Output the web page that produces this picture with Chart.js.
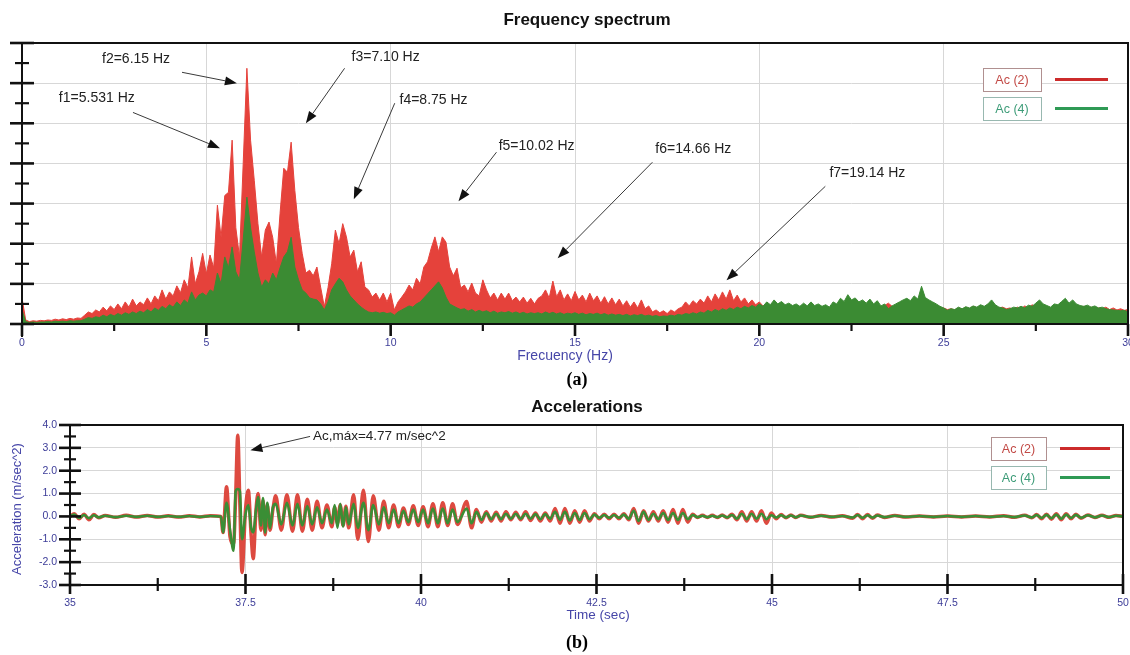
<!DOCTYPE html>
<html>
<head>
<meta charset="utf-8">
<script src="https://cdn.jsdelivr.net/npm/chart.js@4.4.0/dist/chart.umd.min.js"></script>
<style>
  html, body { margin: 0; padding: 0; background: #fff; }
  #page { position: relative; width: 1130px; height: 655px; overflow: hidden; background: #fff; }
  #specCanvas { position: absolute; left: 0; top: 0; }
  #accCanvas { position: absolute; left: 0; top: 390px; }
</style>
</head>
<body>
<div id="page">
  <canvas id="specCanvas" width="1130" height="390"></canvas>
  <canvas id="accCanvas" width="1130" height="265"></canvas>
</div>
<script>
// ---- (a) frequency spectrum, one value every 0.1 Hz from 0 to 30 Hz ----
const ac2Spectrum = [
  0.65, 0.10, 0.06, 0.08, 0.07, 0.09, 0.08, 0.10, 0.09, 0.12, 0.10, 0.13, 0.11, 0.14, 0.12, 0.15, 0.14, 0.22, 0.30, 0.26,
  0.35, 0.30, 0.42, 0.33, 0.45, 0.36, 0.50, 0.38, 0.55, 0.42, 0.62, 0.45, 0.55, 0.48, 0.65, 0.50, 0.70, 0.58, 0.85, 0.62,
  0.80, 0.70, 0.95, 0.78, 1.10, 0.90, 1.67, 1.00, 1.30, 1.76, 1.25, 1.72, 1.40, 2.96, 2.16, 3.20, 3.28, 4.58, 2.40, 1.67,
  4.00, 6.37, 4.58, 3.58, 2.50, 1.67, 2.34, 2.54, 2.16, 1.50, 2.76, 3.88, 3.78, 4.53, 3.33, 2.40, 1.76, 1.27, 1.34, 1.20,
  1.42, 0.92, 0.43, 0.90, 1.50, 2.34, 2.00, 2.50, 2.17, 1.67, 1.84, 1.30, 1.55, 0.92, 0.85, 0.67, 0.77, 0.60, 0.77, 0.55,
  0.77, 0.35, 0.55, 0.67, 0.80, 0.97, 0.85, 1.14, 1.00, 1.42, 1.55, 1.89, 2.17, 1.80, 2.17, 2.04, 1.42, 1.20, 1.39, 0.90,
  0.97, 0.80, 1.02, 0.77, 0.70, 1.10, 0.85, 0.65, 0.77, 0.60, 0.77, 0.62, 0.77, 0.58, 0.67, 0.55, 0.67, 0.52, 0.64, 0.50,
  0.64, 0.70, 0.85, 0.65, 1.07, 0.68, 0.85, 0.60, 0.75, 0.58, 0.81, 0.60, 0.72, 0.55, 0.77, 0.58, 0.70, 0.52, 0.68, 0.50,
  0.65, 0.48, 0.62, 0.45, 0.58, 0.42, 0.55, 0.40, 0.60, 0.38, 0.45, 0.30, 0.35, 0.28, 0.33, 0.26, 0.35, 0.30, 0.38, 0.42,
  0.55, 0.45, 0.58, 0.50, 0.62, 0.52, 0.70, 0.55, 0.75, 0.60, 0.80, 0.62, 0.85, 0.58, 0.72, 0.55, 0.65, 0.50, 0.60, 0.48,
  0.55, 0.45, 0.50, 0.42, 0.48, 0.40, 0.45, 0.38, 0.42, 0.40, 0.45, 0.38, 0.42, 0.36, 0.40, 0.38, 0.44, 0.36, 0.42, 0.40,
  0.48, 0.40, 0.52, 0.42, 0.55, 0.45, 0.50, 0.44, 0.48, 0.42, 0.45, 0.40, 0.50, 0.42, 0.46, 0.52, 0.44, 0.40, 0.45, 0.42,
  0.50, 0.45, 0.55, 0.48, 0.52, 0.45, 0.48, 0.40, 0.42, 0.38, 0.40, 0.36, 0.38, 0.35, 0.40, 0.36, 0.42, 0.38, 0.44, 0.40,
  0.45, 0.40, 0.48, 0.42, 0.46, 0.40, 0.42, 0.38, 0.40, 0.36, 0.42, 0.38, 0.45, 0.40, 0.48, 0.42, 0.46, 0.40, 0.44, 0.38,
  0.46, 0.40, 0.50, 0.42, 0.48, 0.44, 0.46, 0.40, 0.44, 0.38, 0.42, 0.36, 0.40, 0.38, 0.42, 0.36, 0.40, 0.35, 0.38, 0.34,
  0.36
];
const ac4Spectrum = [
  0.35, 0.06, 0.04, 0.05, 0.04, 0.05, 0.05, 0.06, 0.05, 0.07, 0.06, 0.07, 0.06, 0.08, 0.07, 0.08, 0.08, 0.12, 0.16, 0.14,
  0.18, 0.16, 0.22, 0.18, 0.24, 0.20, 0.26, 0.22, 0.28, 0.24, 0.30, 0.26, 0.32, 0.28, 0.36, 0.30, 0.40, 0.34, 0.44, 0.38,
  0.48, 0.42, 0.55, 0.46, 0.60, 0.52, 0.80, 0.60, 0.72, 0.77, 0.70, 0.85, 0.80, 1.27, 1.00, 1.67, 1.40, 1.92, 1.30, 1.10,
  2.10, 3.16, 2.40, 1.80, 1.27, 0.92, 1.10, 1.00, 1.27, 1.10, 1.40, 1.67, 1.80, 2.16, 1.42, 1.10, 0.85, 0.77, 0.65, 0.62,
  0.60, 0.50, 0.35, 0.55, 0.85, 1.00, 1.14, 1.05, 0.85, 0.70, 0.60, 0.50, 0.42, 0.35, 0.30, 0.28, 0.30, 0.27, 0.29, 0.26,
  0.28, 0.22, 0.30, 0.35, 0.40, 0.45, 0.42, 0.50, 0.55, 0.65, 0.75, 0.85, 0.95, 1.05, 0.90, 0.67, 0.50, 0.45, 0.40, 0.36,
  0.38, 0.32, 0.36, 0.30, 0.34, 0.30, 0.33, 0.28, 0.32, 0.27, 0.30, 0.28, 0.31, 0.27, 0.30, 0.26, 0.29, 0.25, 0.28, 0.26,
  0.28, 0.25, 0.30, 0.26, 0.29, 0.25, 0.28, 0.24, 0.27, 0.25, 0.28, 0.24, 0.27, 0.23, 0.26, 0.24, 0.27, 0.23, 0.26, 0.22,
  0.25, 0.22, 0.24, 0.21, 0.24, 0.20, 0.23, 0.21, 0.24, 0.20, 0.22, 0.19, 0.21, 0.18, 0.20, 0.19, 0.22, 0.20, 0.24, 0.22,
  0.26, 0.24, 0.28, 0.25, 0.30, 0.27, 0.34, 0.30, 0.36, 0.32, 0.38, 0.34, 0.40, 0.36, 0.42, 0.38, 0.44, 0.40, 0.46, 0.42,
  0.50, 0.44, 0.55, 0.48, 0.60, 0.50, 0.56, 0.48, 0.52, 0.46, 0.50, 0.44, 0.52, 0.45, 0.55, 0.46, 0.50, 0.44, 0.48, 0.42,
  0.55, 0.50, 0.64, 0.56, 0.73, 0.60, 0.65, 0.55, 0.60, 0.52, 0.62, 0.50, 0.58, 0.45, 0.50, 0.38, 0.45, 0.50, 0.55, 0.60,
  0.64, 0.58, 0.70, 0.62, 0.94, 0.66, 0.60, 0.55, 0.50, 0.44, 0.40, 0.34, 0.38, 0.36, 0.42, 0.38, 0.43, 0.40, 0.45, 0.42,
  0.48, 0.44, 0.50, 0.60, 0.48, 0.42, 0.40, 0.36, 0.38, 0.42, 0.40, 0.44, 0.40, 0.47, 0.44, 0.52, 0.60, 0.50, 0.46, 0.42,
  0.50, 0.48, 0.56, 0.64, 0.52, 0.60, 0.50, 0.46, 0.44, 0.47, 0.42, 0.45, 0.40, 0.42, 0.38, 0.36, 0.35, 0.34, 0.33, 0.34,
  0.30
];

// ---- (b) accelerations, m/sec^2, turning points of the two records ----
const accTime = [
  35.00, 35.06, 35.13, 35.20, 35.27, 35.34, 35.41, 35.50, 35.65, 35.80, 35.95, 36.10, 36.25, 36.40, 36.55, 36.70, 36.85, 37.00, 37.15,
  37.18, 37.23, 37.28, 37.33, 37.36, 37.39, 37.42, 37.45, 37.50, 37.54, 37.58, 37.61, 37.65, 37.68, 37.72, 37.75, 37.78, 37.81, 37.85, 37.89,
  37.93, 38.01, 38.09, 38.17, 38.24, 38.31, 38.38, 38.45, 38.52, 38.59, 38.66, 38.73, 38.77, 38.81, 38.85, 38.89, 38.93, 38.97,
  39.04, 39.10, 39.18, 39.25, 39.32, 39.40, 39.47, 39.54, 39.61, 39.68, 39.75, 39.82, 39.89, 39.96,
  40.03, 40.10, 40.17, 40.24, 40.31, 40.38, 40.45, 40.52, 40.65, 40.72, 40.79, 40.86, 40.93,
  41.00, 41.07, 41.14, 41.21, 41.28, 41.35, 41.42, 41.49, 41.56, 41.63, 41.70, 41.77, 41.84, 41.91, 41.98,
  42.05, 42.12, 42.19, 42.26, 42.33, 42.40, 42.47, 42.54, 42.61, 42.68, 42.75, 42.82, 42.89, 42.96,
  43.03, 43.10, 43.17, 43.24, 43.31, 43.38, 43.45, 43.52, 43.59, 43.66, 43.73, 43.80, 43.87, 43.94,
  44.01, 44.08, 44.15, 44.22, 44.29, 44.36, 44.43, 44.50, 44.57, 44.64, 44.71, 44.78, 44.85, 44.92, 44.99,
  45.06, 45.13, 45.20, 45.27, 45.34, 45.41, 45.55, 45.70, 45.85, 46.00, 46.15, 46.22, 46.29, 46.36, 46.43, 46.50, 46.60, 46.75, 46.90,
  47.10, 47.30, 47.50, 47.70, 47.90, 48.10, 48.30, 48.45, 48.60, 48.70, 48.77, 48.84, 48.91, 48.98, 49.05, 49.12, 49.19, 49.26, 49.33, 49.40, 49.50, 49.60, 49.70, 49.80, 49.90, 50.00
];
const ac2Accel = [
  0.00, 0.12, -0.10, 0.10, -0.15, 0.08, -0.06, 0.04, -0.04, 0.05, -0.03, 0.04, -0.03, 0.03, -0.03, 0.03, -0.02, 0.03, 0.00,
  -0.70, 1.30, -0.90, -1.20, 0.90, 3.55, 0.50, -2.45, 0.30, 1.15, -0.80, -1.85, 0.30, 1.00, -0.60, 0.70, -0.80, 0.50, -0.60, 0.30,
  0.90, -0.60, 0.95, -0.65, 0.95, -0.65, 0.75, -0.60, 0.66, -0.50, 0.50, -0.45, 0.40, -0.30, 0.50, -0.40, 0.45, -0.50,
  0.95, -1.00, 1.15, -1.10, 0.90, -0.60, 0.66, -0.50, 0.50, -0.45, 0.37, -0.35, 0.47, -0.40,
  0.42, -0.45, 0.55, -0.45, 0.60, -0.40, 0.55, -0.35, 0.65, -0.50, 0.30, -0.25, 0.20,
  -0.20, 0.18, -0.20, 0.20, -0.15, 0.18, -0.15, 0.20, -0.18, 0.15, -0.20, 0.15, -0.20, 0.35, -0.30,
  0.35, -0.30, 0.25, -0.25, 0.25, -0.20, 0.12, -0.10, 0.10, -0.10, 0.10, -0.10, 0.12, -0.15,
  0.35, -0.30, 0.25, -0.20, 0.20, -0.20, 0.25, -0.25, 0.30, -0.30, 0.30, -0.25, 0.10, -0.05,
  0.05, -0.05, 0.05, -0.05, 0.06, -0.06, 0.10, -0.15, 0.20, -0.20, 0.20, -0.20, 0.25, -0.30, 0.15,
  -0.10, 0.08, -0.06, 0.06, -0.05, 0.05, -0.04, 0.04, -0.03, 0.03, -0.08, 0.08, -0.10, 0.08, -0.08, 0.06, -0.05, 0.04, -0.03,
  0.02, -0.02, 0.02, -0.02, 0.02, -0.02, 0.03, -0.04, 0.05, -0.06, 0.08, -0.10, 0.10, -0.12, 0.12, -0.15, 0.12, -0.10, 0.10, -0.08, 0.06, -0.05, 0.05, -0.04, 0.04, 0.00
];
const ac4Accel = [
  0.00, 0.08, -0.07, 0.06, -0.08, 0.05, -0.04, 0.03, -0.03, 0.03, -0.02, 0.03, -0.02, 0.02, -0.02, 0.02, -0.02, 0.02, 0.00,
  -0.70, 0.60, -0.60, -1.50, 1.10, 1.20, 1.10, -1.00, 0.10, 0.50, -0.50, -0.70, 0.30, 0.85, -0.40, 0.80, -0.70, 0.60, -0.50, 0.40,
  0.55, -0.35, 0.60, -0.40, 0.55, -0.40, 0.45, -0.35, 0.40, -0.30, 0.30, -0.30, 0.50, -0.50, 0.55, -0.45, 0.40, -0.35,
  0.55, -0.50, 0.60, -0.60, 0.50, -0.35, 0.40, -0.30, 0.30, -0.30, 0.25, -0.25, 0.30, -0.25,
  0.30, -0.30, 0.35, -0.30, 0.35, -0.30, 0.30, -0.25, 0.35, -0.30, 0.20, -0.15, 0.15,
  -0.12, 0.12, -0.12, 0.12, -0.10, 0.12, -0.10, 0.12, -0.10, 0.10, -0.12, 0.10, -0.10, 0.20, -0.15,
  0.20, -0.18, 0.15, -0.15, 0.15, -0.12, 0.08, -0.06, 0.06, -0.06, 0.06, -0.06, 0.08, -0.10,
  0.25, -0.20, 0.20, -0.15, 0.12, -0.12, 0.15, -0.15, 0.15, -0.15, 0.15, -0.12, 0.06, -0.03,
  0.03, -0.03, 0.03, -0.03, 0.04, -0.04, 0.06, -0.10, 0.12, -0.12, 0.12, -0.10, 0.12, -0.12, 0.05,
  -0.05, 0.05, -0.04, 0.04, -0.04, 0.04, -0.03, 0.03, -0.02, 0.02, -0.05, 0.06, -0.06, 0.05, -0.05, 0.04, -0.03, 0.03, -0.02,
  0.02, -0.02, 0.02, -0.02, 0.02, -0.02, 0.02, -0.03, 0.04, -0.04, 0.06, -0.07, 0.07, -0.08, 0.08, -0.10, 0.08, -0.07, 0.07, -0.06, 0.05, -0.04, 0.04, -0.03, 0.03, 0.00
];

// annotation labels, placed in data units
const specNotes = [
  { text: 'f2=6.15 Hz',  tx: 2.17,  ty: 6.59, from: [4.34, 6.27],  to: [5.83, 6.00] },
  { text: 'f1=5.531 Hz', tx: 1.00,  ty: 5.62, from: [3.01, 5.27],  to: [5.37, 4.38] },
  { text: 'f3=7.10 Hz',  tx: 8.94,  ty: 6.64, from: [8.75, 6.37],  to: [7.70, 5.00] },
  { text: 'f4=8.75 Hz',  tx: 10.24, ty: 5.57, from: [10.11, 5.50], to: [9.00, 3.11] },
  { text: 'f5=10.02 Hz', tx: 12.93, ty: 4.43, from: [12.87, 4.28], to: [11.84, 3.06] },
  { text: 'f6=14.66 Hz', tx: 17.18, ty: 4.35, from: [17.10, 4.03], to: [14.53, 1.64] },
  { text: 'f7=19.14 Hz', tx: 21.90, ty: 3.76, from: [21.79, 3.43], to: [19.11, 1.09] }
];
const accNotes = [
  { text: 'Ac,máx=4.77 m/sec^2', tx: 38.46, ty: 3.50, from: [38.42, 3.50], to: [37.57, 2.89] }
];

const specRed = '#e5423b';
const specGreen = '#3b8b33';
const accRed = '#dd4a40';
const accGreen = '#3a8e35';
const tickBlue = '#3c3c98';
const titleBlue = '#4646a8';
const gridGray = '#d7d7d7';
const sans = '"Liberation Sans", Arial, sans-serif';

Chart.defaults.font.family = sans;

const toPoints = (xs, ys) => xs.map((x, i) => ({ x: x, y: ys[i] }));
const specFreq = ac2Spectrum.map((_, i) => i / 10);

// draws the black frame, crossing tick marks, arrows, legend boxes and captions
function makeDeco(cfg) {
  return {
    id: 'deco',
    afterDatasetsDraw(chart) {
      const ctx = chart.ctx, a = chart.chartArea;
      const xs = chart.scales.x, ys = chart.scales.y;
      const seg = (x1, y1, x2, y2, w, c) => {
        ctx.strokeStyle = c || '#111';
        ctx.lineWidth = w;
        ctx.beginPath();
        ctx.moveTo(x1, y1);
        ctx.lineTo(x2, y2);
        ctx.stroke();
      };
      ctx.save();
      ctx.lineCap = 'butt';

      // frame
      seg(a.left - cfg.frameExt, a.top, a.right + 1, a.top, 2);
      seg(a.left - cfg.frameExt, a.bottom, a.right + 1, a.bottom, 2);
      seg(a.left, a.top - 1, a.left, a.bottom + cfg.axisExt, 2);
      seg(a.right, a.top - 1, a.right, a.bottom + 1, 2);

      // y ticks crossing the left axis
      const yt = cfg.yTicks;
      for (let k = 0; yt.min + k * yt.minor <= yt.max + 1e-9; k++) {
        const py = ys.getPixelForValue(yt.min + k * yt.minor);
        const major = k % 2 === 0;
        const sp = major ? yt.majorSpan : yt.minorSpan;
        seg(a.left - sp[0], py, a.left + sp[1], py, major ? 2.6 : 2.2);
      }
      // x ticks on the bottom axis
      const xt = cfg.xTicks;
      for (let k = 0; xt.min + k * xt.minor <= xt.max + 1e-9; k++) {
        const px = xs.getPixelForValue(xt.min + k * xt.minor);
        const major = k % 2 === 0;
        const sp = major ? xt.majorSpan : xt.minorSpan;
        seg(px, a.bottom - sp[0], px, a.bottom + sp[1], major ? 2.6 : 2.2);
      }

      // annotation arrows and labels
      cfg.notes.forEach(n => {
        const x1 = xs.getPixelForValue(n.from[0]), y1 = ys.getPixelForValue(n.from[1]);
        const x2 = xs.getPixelForValue(n.to[0]), y2 = ys.getPixelForValue(n.to[1]);
        const ang = Math.atan2(y2 - y1, x2 - x1), L = 12, W = 4.5;
        const bx = x2 - L * Math.cos(ang), by = y2 - L * Math.sin(ang);
        seg(x1, y1, bx, by, 1, '#3a3a3a');
        ctx.fillStyle = '#111';
        ctx.beginPath();
        ctx.moveTo(x2, y2);
        ctx.lineTo(bx + W * Math.sin(ang), by - W * Math.cos(ang));
        ctx.lineTo(bx - W * Math.sin(ang), by + W * Math.cos(ang));
        ctx.closePath();
        ctx.fill();
        ctx.font = cfg.noteFont;
        ctx.fillStyle = '#222';
        ctx.textAlign = 'left';
        ctx.textBaseline = 'middle';
        ctx.fillText(n.text, xs.getPixelForValue(n.tx), ys.getPixelForValue(n.ty));
      });

      // legend: boxed label with a line sample to its right
      const lg = cfg.legend;
      chart.data.datasets.forEach((ds, i) => {
        const top = lg.top + i * lg.gap;
        ctx.fillStyle = '#fff';
        ctx.fillRect(lg.boxX, top, lg.boxW, lg.boxH);
        ctx.strokeStyle = lg.boxColors[i];
        ctx.lineWidth = 1;
        ctx.strokeRect(lg.boxX + 0.5, top + 0.5, lg.boxW, lg.boxH);
        ctx.font = '12.5px ' + sans;
        ctx.fillStyle = lg.textColors[i];
        ctx.textAlign = 'center';
        ctx.textBaseline = 'middle';
        ctx.fillText(ds.label, lg.boxX + lg.boxW / 2, top + lg.boxH / 2 + 1);
        seg(lg.lineX1, top + lg.boxH / 2, lg.lineX2, top + lg.boxH / 2, 3, lg.lineColors[i]);
      });

      // captions
      cfg.texts.forEach(t => {
        ctx.save();
        ctx.translate(t.x, t.y);
        if (t.rot) ctx.rotate(t.rot);
        ctx.font = t.font;
        ctx.fillStyle = t.color;
        ctx.textAlign = 'center';
        ctx.textBaseline = 'middle';
        ctx.fillText(t.text, 0, 0);
        ctx.restore();
      });
      ctx.restore();
    }
  };
}

// ---- chart (a) ----
new Chart(document.getElementById('specCanvas'), {
  type: 'line',
  data: {
    datasets: [
      { label: 'Ac (2)', data: toPoints(specFreq, ac2Spectrum), borderColor: specRed, backgroundColor: specRed,
        fill: 'origin', borderWidth: 1, pointRadius: 0, tension: 0, order: 2 },
      { label: 'Ac (4)', data: toPoints(specFreq, ac4Spectrum), borderColor: specGreen, backgroundColor: specGreen,
        fill: 'origin', borderWidth: 1, pointRadius: 0, tension: 0, order: 1 }
    ]
  },
  options: {
    responsive: false,
    animation: false,
    events: [],
    layout: { padding: { top: 43, right: 2, left: 0, bottom: 0 } },
    plugins: { legend: { display: false }, tooltip: { enabled: false } },
    scales: {
      x: {
        type: 'linear', min: 0, max: 30,
        afterFit(s) { s.height = 66; s.paddingLeft = 0; s.paddingRight = 0; },
        ticks: { stepSize: 5, padding: 13, color: tickBlue, font: { size: 10.5 }, maxRotation: 0, autoSkip: false,
                 callback: v => String(v) },
        grid: { color: gridGray, drawTicks: false },
        border: { display: false }
      },
      y: {
        min: 0, max: 7,
        afterFit(s) { s.width = 22; },
        ticks: { stepSize: 1, display: false },
        grid: { color: gridGray, drawTicks: false },
        border: { display: false }
      }
    }
  },
  plugins: [makeDeco({
    frameExt: 12, axisExt: 13,
    yTicks: { min: 0, max: 7, minor: 0.5, majorSpan: [12, 12], minorSpan: [7, 7] },
    xTicks: { min: 0, max: 30, minor: 2.5, majorSpan: [0, 12], minorSpan: [0, 7] },
    notes: specNotes,
    noteFont: '14px ' + sans,
    legend: { boxX: 983, boxW: 58, boxH: 23, top: 68, gap: 29, lineX1: 1055, lineX2: 1108,
              boxColors: ['#b09090', '#98b8b0'], textColors: ['#c24a46', '#3d9c78'], lineColors: ['#cc2b2b', '#2f9a55'] },
    texts: [
      { text: 'Frequency spectrum', x: 587, y: 20, font: 'bold 17px ' + sans, color: '#111' },
      { text: 'Frecuency (Hz)', x: 565, y: 356, font: '14px ' + sans, color: titleBlue },
      { text: '(a)', x: 577, y: 380, font: 'bold 18px "Liberation Serif", "Times New Roman", serif', color: '#000' }
    ]
  })]
});

// ---- chart (b) ----
new Chart(document.getElementById('accCanvas'), {
  type: 'line',
  data: {
    datasets: [
      { label: 'Ac (2)', data: toPoints(accTime, ac2Accel), borderColor: accRed, borderWidth: 3.5,
        pointRadius: 0, cubicInterpolationMode: 'monotone', fill: false, order: 2 },
      { label: 'Ac (4)', data: toPoints(accTime, ac4Accel), borderColor: accGreen, borderWidth: 2.6,
        pointRadius: 0, cubicInterpolationMode: 'monotone', fill: false, order: 1 }
    ]
  },
  options: {
    responsive: false,
    animation: false,
    events: [],
    layout: { padding: { top: 35, right: 7, left: 0, bottom: 0 } },
    plugins: { legend: { display: false }, tooltip: { enabled: false } },
    scales: {
      x: {
        type: 'linear', min: 35, max: 50,
        afterFit(s) { s.height = 70; s.paddingLeft = 0; s.paddingRight = 0; },
        ticks: { stepSize: 2.5, padding: 12, color: tickBlue, font: { size: 10.5 }, maxRotation: 0, autoSkip: false,
                 callback: v => String(v) },
        grid: { color: gridGray, drawTicks: false },
        border: { display: false }
      },
      y: {
        min: -3, max: 4,
        afterFit(s) { s.width = 70; },
        ticks: { stepSize: 1, padding: 13, color: tickBlue, font: { size: 10.5 }, callback: v => v.toFixed(1) },
        grid: { color: gridGray, drawTicks: false },
        border: { display: false }
      }
    }
  },
  plugins: [makeDeco({
    frameExt: 10, axisExt: 0,
    yTicks: { min: -3, max: 4, minor: 0.5, majorSpan: [11, 11], minorSpan: [6, 6] },
    xTicks: { min: 35, max: 50, minor: 1.25, majorSpan: [11, 9], minorSpan: [7, 6] },
    notes: accNotes,
    noteFont: '13.5px ' + sans,
    legend: { boxX: 991, boxW: 55, boxH: 23, top: 47, gap: 29, lineX1: 1060, lineX2: 1110,
              boxColors: ['#b09090', '#98b8b0'], textColors: ['#c24a46', '#3d9c78'], lineColors: ['#cc2b2b', '#2f9a55'] },
    texts: [
      { text: 'Accelerations', x: 587, y: 17, font: 'bold 17px ' + sans, color: '#111' },
      { text: 'Time (sec)', x: 598, y: 225, font: '13.5px ' + sans, color: titleBlue },
      { text: 'Acceleration (m/sec^2)', x: 17, y: 119, rot: -Math.PI / 2, font: '13px ' + sans, color: titleBlue },
      { text: '(b)', x: 577, y: 253, font: 'bold 18px "Liberation Serif", "Times New Roman", serif', color: '#000' }
    ]
  })]
});
</script>
</body>
</html>
